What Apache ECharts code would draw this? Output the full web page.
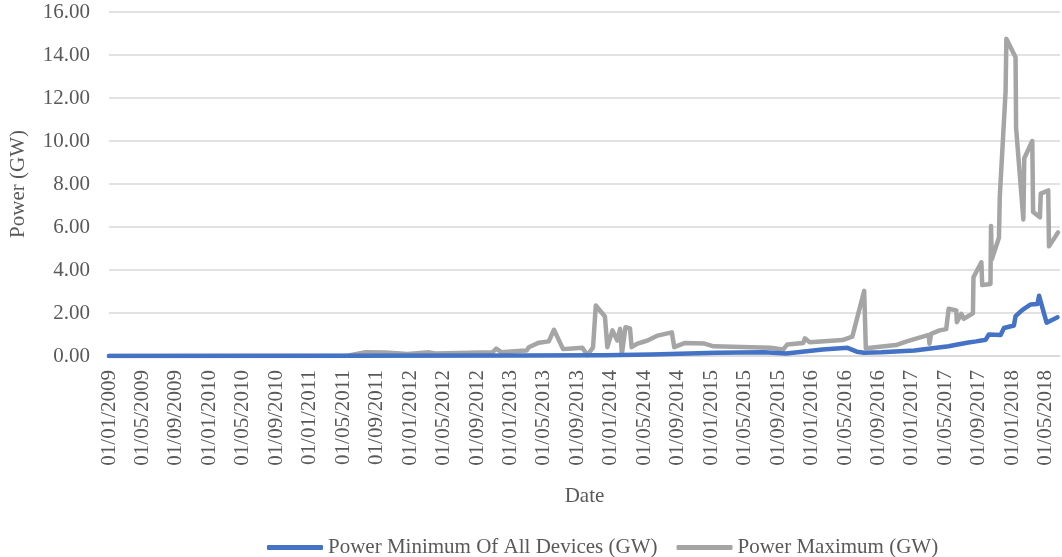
<!DOCTYPE html>
<html>
<head>
<meta charset="utf-8">
<script src="https://cdn.jsdelivr.net/npm/echarts@6/dist/echarts.min.js"></script>
<style>html,body{margin:0;padding:0;background:#fff;}#c{width:1062px;height:557px;}</style>
</head>
<body>
<div id="c"></div>
<script>
// Power Maximum (GW)
const maxDates = ["2009-01-01","2011-05-13","2011-07-22","2011-10-04","2011-12-22","2012-03-10","2012-04-01","2012-08-01","2012-10-27","2012-11-10","2012-11-28","2013-02-10","2013-02-27","2013-03-07","2013-04-13","2013-05-19","2013-06-07","2013-07-10","2013-08-13","2013-09-19","2013-10-07","2013-10-28","2013-11-07","2013-12-10","2013-12-19","2014-01-07","2014-01-25","2014-02-04","2014-02-10","2014-02-22","2014-03-10","2014-03-16","2014-04-07","2014-05-13","2014-06-19","2014-08-10","2014-08-19","2014-09-25","2014-12-07","2015-01-10","2015-08-04","2015-09-19","2015-10-04","2015-12-01","2015-12-07","2015-12-25","2016-04-22","2016-05-28","2016-07-10","2016-07-16","2016-11-04","2016-12-10","2017-03-01","2017-03-04","2017-03-10","2017-04-10","2017-05-04","2017-05-13","2017-06-10","2017-06-12","2017-06-28","2017-07-07","2017-08-10","2017-08-12","2017-09-10","2017-09-13","2017-10-13","2017-10-15","2017-10-18","2017-11-13","2017-11-16","2017-12-07","2017-12-10","2018-01-13","2018-01-15","2018-02-10","2018-02-13","2018-03-13","2018-03-16","2018-04-10","2018-04-13","2018-05-10","2018-05-13","2018-06-15"];
const maxValues = [0,0,0.18,0.16,0.09,0.17,0.12,0.15,0.17,0.34,0.18,0.24,0.25,0.41,0.62,0.68,1.22,0.32,0.35,0.38,0.04,0.4,2.35,1.84,0.41,1.19,0.72,1.26,0.1,1.34,1.28,0.41,0.58,0.72,0.95,1.1,0.41,0.6,0.58,0.45,0.38,0.3,0.54,0.6,0.82,0.64,0.74,0.9,3.03,0.36,0.51,0.67,0.98,0.57,1.03,1.19,1.25,2.2,2.12,1.57,1.96,1.73,1.98,3.66,4.36,3.3,3.35,6.05,4.5,5.5,7.4,12.3,14.75,13.9,10.6,6.35,9.2,10.0,6.7,6.45,7.55,7.7,5.1,5.75];

// Power Minimum Of All Devices (GW)
const minDates = ["2009-01-01","2011-05-13","2013-02-27","2013-12-10","2014-05-28","2015-01-22","2015-07-10","2015-09-30","2016-02-10","2016-05-10","2016-06-13","2016-07-10","2016-09-10","2017-01-10","2017-05-13","2017-06-10","2017-07-19","2017-08-22","2017-09-10","2017-09-25","2017-10-07","2017-11-19","2017-12-01","2018-01-07","2018-01-13","2018-02-07","2018-03-07","2018-04-01","2018-04-07","2018-05-04","2018-06-13"];
const minValues = [0,0.01,0.02,0.04,0.07,0.15,0.18,0.12,0.3,0.38,0.2,0.15,0.17,0.26,0.45,0.52,0.62,0.68,0.72,0.75,1.0,0.98,1.3,1.42,1.85,2.15,2.4,2.42,2.8,1.55,1.8];

const seriesNames = ["Power Minimum Of All Devices (GW)", "Power Maximum (GW)"];
const startYear = 2009;

function toMonths(s) {
  const [y, m, d] = s.split('-').map(Number);
  const dim = new Date(y, m, 0).getDate();
  return (y - startYear) * 12 + (m - 1) + (d - 1) / dim;
}
function pad(n) { return (n < 10 ? '0' : '') + n; }
function monthLabel(v) {
  if (Math.abs(v - Math.round(v)) > 1e-6 || Math.round(v) % 4 !== 0) return '';
  const r = Math.round(v);
  return '01/' + pad(r % 12 + 1) + '/' + (startYear + Math.floor(r / 12));
}

const minData = minDates.map((d, i) => [toMonths(d), minValues[i]]);
const maxData = maxDates.map((d, i) => [toMonths(d), maxValues[i]]);

const font = 'Liberation Serif, Times New Roman, serif';
const txt = '#595959';

const chart = echarts.init(document.getElementById('c'));
chart.setOption({
  animation: false,
  backgroundColor: '#fff',
  grid: { left: 98, right: 2, top: 12, bottom: 201 },
  legend: {
    top: 532, left: 262,
    itemWidth: 56, itemHeight: 5, itemGap: 19,
    icon: 'roundRect',
    textStyle: { fontFamily: font, fontSize: 21, color: txt },
    data: seriesNames
  },
  xAxis: {
    type: 'value', min: 0, max: 113.7, interval: 4,
    name: 'Date', nameLocation: 'middle', nameGap: 130,
    nameTextStyle: { fontFamily: font, fontSize: 21, color: txt },
    axisLine: { show: true, lineStyle: { color: '#D9D9D9', width: 1.5 } },
    axisTick: { show: false },
    splitLine: { show: false },
    axisLabel: {
      rotate: 90, margin: 14, showMaxLabel: false, showMinLabel: true,
      fontFamily: font, fontSize: 21, color: txt,
      formatter: monthLabel
    }
  },
  yAxis: {
    type: 'value', min: 0, max: 16, interval: 2,
    name: 'Power (GW)', nameLocation: 'middle', nameGap: 80,
    nameTextStyle: { fontFamily: font, fontSize: 21, color: txt },
    axisLine: { show: false },
    axisTick: { show: false },
    splitLine: { lineStyle: { color: '#D9D9D9', width: 1.5 } },
    axisLabel: {
      margin: 19, fontFamily: font, fontSize: 21, color: txt,
      formatter: v => v.toFixed(2)
    }
  },
  series: [
    {
      name: seriesNames[0], type: 'line', data: minData, symbol: 'none',
      itemStyle: { color: '#4472C4' },
      lineStyle: { color: '#4472C4', width: 4.5, cap: 'round', join: 'round' },
      z: 3
    },
    {
      name: seriesNames[1], type: 'line', data: maxData, symbol: 'none',
      itemStyle: { color: '#A5A5A5' },
      lineStyle: { color: '#A5A5A5', width: 4.5, cap: 'round', join: 'round' },
      z: 2
    }
  ]
});
</script>
</body>
</html>
